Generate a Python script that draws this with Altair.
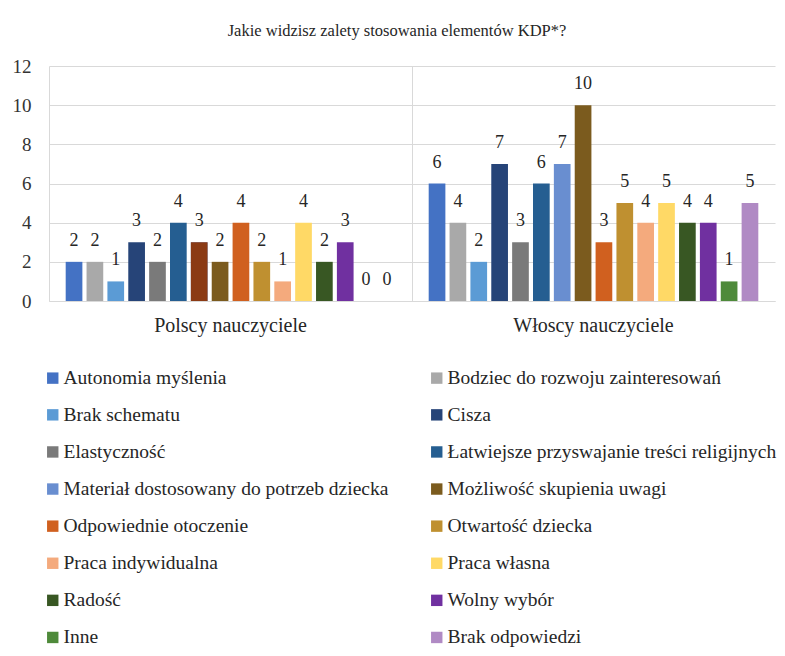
import altair as alt
import pandas as pd

groups = ["Polscy nauczyciele", "Włoscy nauczyciele"]
series = [
    "Autonomia myślenia",
    "Bodziec do rozwoju zainteresowań",
    "Brak schematu",
    "Cisza",
    "Elastyczność",
    "Łatwiejsze przyswajanie treści religijnych",
    "Materiał dostosowany do potrzeb dziecka",
    "Możliwość skupienia uwagi",
    "Odpowiednie otoczenie",
    "Otwartość dziecka",
    "Praca indywidualna",
    "Praca własna",
    "Radość",
    "Wolny wybór",
    "Inne",
    "Brak odpowiedzi",
]
polish = [2, 2, 1, 3, 2, 4, 3, 2, 4, 2, 1, 4, 2, 3, 0, 0]
italian = [6, 4, 2, 7, 3, 6, 7, 10, 3, 5, 4, 5, 4, 4, 1, 5]
colors = [
    "#4472C4", "#A9A9A9", "#5B9BD5", "#264478", "#7A7A7A", "#255E91",
    "#698ED0", "#7B5B1E", "#D0601F", "#BF9030", "#F4AA7D", "#FFD966",
    "#385723", "#7030A0", "#4E8A3A", "#B08AC4",
]
override_color = "#8B3A14"  # Polish "Materiał..." bar drawn in a different colour

rows = []
for g, vals in zip(groups, [polish, italian]):
    for s, v in zip(series, vals):
        rows.append({"group": g, "series": s, "value": v})
df = pd.DataFrame(rows)

# legend fills columns first: left column = even items, right column = odd items
legend_order = series[0::2] + series[1::2]
legend_colors = colors[0::2] + colors[1::2]

FONT = "Liberation Serif"
TXT = "#262626"

x = alt.X("group:N", sort=groups,
          scale=alt.Scale(paddingInner=0, paddingOuter=0),
          axis=alt.Axis(title=None, labelAngle=0, labelFont=FONT, labelFontSize=20,
                        labelColor=TXT, labelPadding=14, ticks=False,
                        domainColor="#d9d9d9", grid=True, gridColor="#d9d9d9",
                        bandPosition=0))
xo = alt.XOffset("series:N", sort=series,
                 scale=alt.Scale(paddingInner=0.2, paddingOuter=0.8))
y = alt.Y("value:Q", scale=alt.Scale(domain=[0, 12], nice=False),
          axis=alt.Axis(title=None, values=[0, 2, 4, 6, 8, 10, 12], labelFont=FONT,
                        labelFontSize=19, labelColor="#333333", labelPadding=18,
                        ticks=False, domain=False, gridColor="#d9d9d9"))

color = alt.Color("series:N",
                  scale=alt.Scale(domain=legend_order, range=legend_colors),
                  legend=alt.Legend(title=None, orient="none", legendX=-6, legendY=302,
                                    columns=2, columnPadding=38, rowPadding=16.1,
                                    symbolType="square", symbolSize=130,
                                    symbolStrokeWidth=0, labelFont=FONT,
                                    labelFontSize=19.5, labelColor=TXT,
                                    labelLimit=600, labelOffset=1))

base = alt.Chart(df)
bars = base.mark_bar().encode(x=x, xOffset=xo, y=y, color=color)
override = base.mark_bar(color=override_color).encode(x=x, xOffset=xo, y=y).transform_filter(
    (alt.datum.group == groups[0]) & (alt.datum.series == series[6])
)
labels = base.mark_text(baseline="alphabetic", dy=-16, font=FONT, fontSize=18,
                        color=TXT).encode(x=x, xOffset=xo, y=y, text="value:Q")

chart = (bars + override + labels).properties(
    width=726, height=235,
    padding={"left": 4, "top": 14, "right": 0, "bottom": 0},
    title=alt.TitleParams("Jakie widzisz zalety stosowania elementów KDP*?",
                          font=FONT, fontSize=16.5, fontWeight="normal", color=TXT,
                          offset=18, dx=-15, anchor="middle"),
).configure_view(stroke=None)

chart.save("out.html", embed_options={"renderer": "svg", "actions": False})
